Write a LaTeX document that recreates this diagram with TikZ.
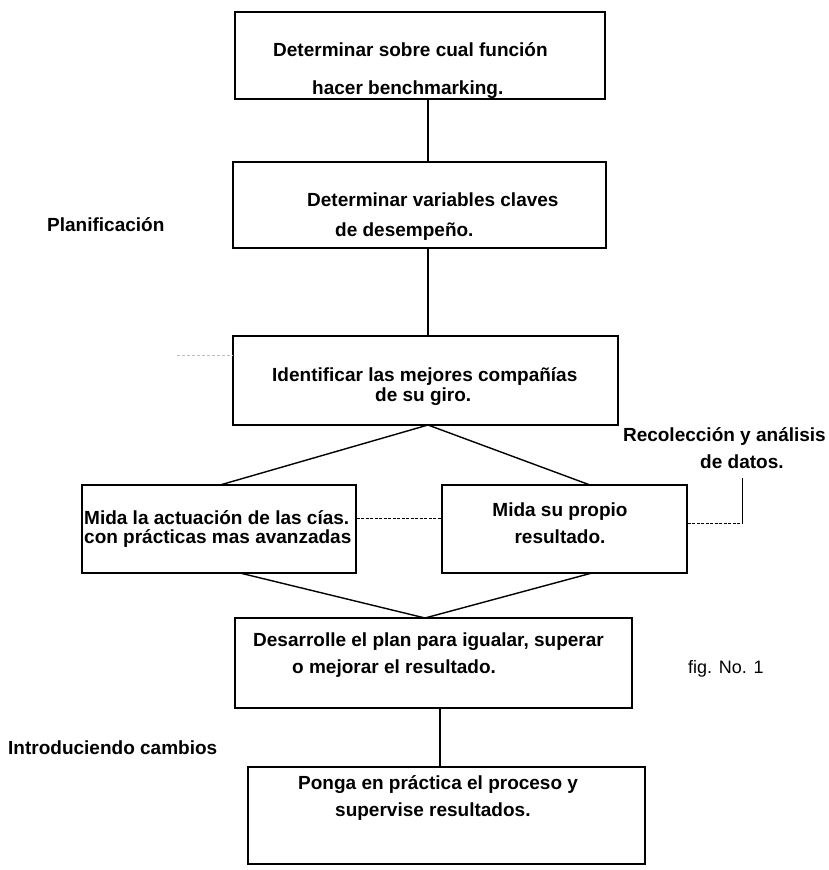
\documentclass[tikz,border=0pt]{standalone}
\usepackage{fontspec}
\setmainfont{Liberation Sans}
\begin{document}
\begin{tikzpicture}[x=1pt,y=-1pt,
  box/.style={draw=black, line width=1.4pt, inner sep=0pt},
  txt/.style={anchor=base west, inner sep=0pt, font=\fontsize{19}{19}\selectfont\bfseries},
  plain/.style={anchor=base west, inner sep=0pt, font=\fontsize{18}{18}\selectfont},
  conn/.style={draw=black, line width=1.4pt},
  dashln/.style={draw=black, line width=1pt, dash pattern=on 3pt off 1.5pt}]
\useasboundingbox (0,0) rectangle (829,870);
% boxes
\node[box, minimum width=370pt, minimum height=87pt] (b1) at (420,55.5) {};
\node[box, minimum width=373pt, minimum height=86pt] (b2) at (419.5,205) {};
\node[box, minimum width=385pt, minimum height=89pt] (b3) at (425.5,380.5) {};
\node[box, minimum width=274pt, minimum height=88pt] (b4) at (219,529) {};
\node[box, minimum width=245pt, minimum height=88pt] (b5) at (564.5,529) {};
\node[box, minimum width=397pt, minimum height=90pt] (b6) at (433.5,663) {};
\node[box, minimum width=397pt, minimum height=97pt] (b7) at (446.5,815.5) {};
% texts
\node[txt] (t1a) at (273,56) {Determinar sobre cual función};
\node[txt] (t1b) at (312,94) {hacer benchmarking.};
\node[txt] (t2a) at (307,206) {Determinar variables claves};
\node[txt] (t2b) at (335,236) {de desempeño.};
\node[txt] (t3a) at (272,381) {Identificar las mejores compañías};
\node[txt] (t3b) at (375,401) {de su giro.};
\node[txt] (t4a) at (84,524) {Mida la actuación de las cías.};
\node[txt] (t4b) at (84,543) {con prácticas mas avanzadas};
\node[txt, anchor=base] (t5a) at (560,516) {Mida su propio};
\node[txt, anchor=base] (t5b) at (560,543) {resultado.};
\node[txt] (t6a) at (253,646) {Desarrolle el plan para igualar, superar};
\node[txt] (t6b) at (292,673) {o mejorar el resultado.};
\node[txt] (t7a) at (298,789) {Ponga en práctica el proceso y};
\node[txt] (t7b) at (335,816) {supervise resultados.};
\node[txt] (lp) at (47,231) {Planificación};
\node[txt, anchor=base east] (lr1) at (826,441) {Recolección y análisis};
\node[txt] (lr2) at (700,468) {de datos.};
\node[txt] (li) at (8,754) {Introduciendo cambios};
\node[plain] (lf) at (688,673) {fig. No. 1};
% connectors
\draw[conn] (b1.south -| 428,0) -- (b2.north -| 428,0);
\draw[conn] (b2.south -| 428,0) -- (b3.north -| 428,0);
\coordinate (apex1) at (428,425);
\draw[conn] (220,485) -- (apex1) -- (590,485);
\coordinate (apex2) at (425,618);
\draw[conn] (240,573) -- (apex2) -- (592,573);
\draw[conn] (b6.south -| 440,0) -- (b7.north -| 440,0);
\draw[dashln] (b4.east |- 0,518) -- (b5.west |- 0,518);
\coordinate (br) at (742,478);
\draw[dashln] (b5.east |- 0,523) -- (742,523);
\draw[line width=0.8pt] (742,523) -- (br);
\draw[gray!50, line width=0.8pt, dash pattern=on 3pt off 2pt] (177,355) -- (b3.west |- 0,355);
\end{tikzpicture}
\end{document}
